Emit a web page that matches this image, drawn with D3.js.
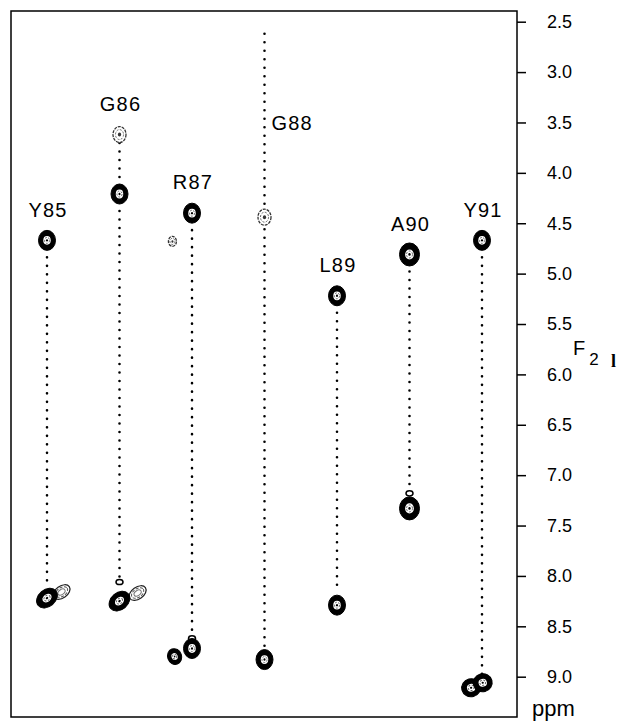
<!DOCTYPE html>
<html>
<head>
<meta charset="utf-8">
<script src="https://cdn.jsdelivr.net/npm/d3@7"></script>
<style>
  html, body { margin: 0; padding: 0; background: #fff; }
  svg { display: block; }
  text { font-family: "Liberation Sans", Arial, Helvetica, sans-serif; fill: #000; }
</style>
</head>
<body>
<script>
// ---------------- data ----------------
const residues   = ["Y85", "G86", "R87", "G88", "L89", "A90", "Y91"];
// dotted connectivity line: start / end chemical shift (ppm, F2)
const lineTop    = [4.67, 3.62, 4.40, 2.62, 5.22, 4.81, 4.67];
const lineBottom = [8.10, 8.04, 8.62, 8.72, 8.15, 7.13, 9.00];
// cross peaks
const peakResidue = ["Y85","Y85","Y85", "G86","G86","G86","G86","G86", "R87","R87","R87","R87","R87", "G88","G88", "L89","L89", "A90","A90","A90", "Y91","Y91","Y91"];
const peakShift   = [4.67, 8.16, 8.22,  3.62, 4.21, 8.17, 8.25, 8.06,  4.40, 4.68, 8.80, 8.72, 8.62,  4.44, 8.83,  5.22, 8.29,  4.81, 7.33, 7.18,  4.67, 9.11, 9.06];
const peakOffset  = [0, 0.20, 0,        0, 0, 0.25, 0, 0,              0, -0.27, -0.24, 0, 0,          0, 0,        0, 0,        0, 0, 0,           0, -0.15, 0.01];
const peakKind    = ["strong","tiltOpen","tilt", "weak","strong","tiltOpen","tilt","tiny", "strong","faint","small","strong","tiny", "weak","strong", "strong","strong", "big","big","tiny", "strong","pair","pair"];
const tickValues  = [2.5, 3.0, 3.5, 4.0, 4.5, 5.0, 5.5, 6.0, 6.5, 7.0, 7.5, 8.0, 8.5, 9.0];

// ---------------- layout ----------------
const W = 621, H = 721;
const box = { left: 11, top: 11, right: 517, bottom: 717 };

const svg = d3.select("body").append("svg").attr("width", W).attr("height", H);

const x = d3.scalePoint().domain(residues).range([47, 482]);
const step = x.step();
const y = d3.scaleLinear().domain([2.5, 9.0]).range([21.7, 676.7]);

// frame
svg.append("rect")
  .attr("x", box.left).attr("y", box.top)
  .attr("width", box.right - box.left).attr("height", box.bottom - box.top)
  .attr("fill", "none").attr("stroke", "#000").attr("stroke-width", 1.5);

// right axis
const axis = d3.axisRight(y).tickValues(tickValues).tickSize(9).tickPadding(21).tickFormat(d3.format(".1f"));
const ag = svg.append("g").attr("transform", `translate(${box.right},0)`).call(axis);
ag.select(".domain").remove();
ag.selectAll(".tick line").attr("stroke", "#000").attr("stroke-width", 1.5);
ag.selectAll(".tick text").style("font-size", "18px").attr("fill", "#000");

// axis labels
svg.append("text").attr("x", 532).attr("y", 716).style("font-size", "22px").text("ppm");
const f2 = svg.append("text").attr("x", 573).attr("y", 355).style("font-size", "20px");
f2.append("tspan").text("F");
f2.append("tspan").attr("dy", 10).attr("dx", 4).style("font-size", "17px").text("2");
svg.append("text").attr("x", 611).attr("y", 367)
  .style("font-family", "'Liberation Serif', 'DejaVu Serif', serif").style("font-size", "18px").style("font-weight", "bold").text("l");

// dotted lines
const lines = residues.map((r, i) => ({ r, top: lineTop[i], bottom: lineBottom[i] }));
svg.append("g").selectAll("line").data(lines).join("line")
  .attr("x1", d => x(d.r)).attr("x2", d => x(d.r))
  .attr("y1", d => y(d.top)).attr("y2", d => y(d.bottom))
  .attr("stroke", "#000").attr("stroke-width", 2.6)
  .attr("stroke-linecap", "round").attr("stroke-dasharray", "0,8.5");

// peaks
const peaks = peakResidue.map((r, i) => ({ r, ppm: peakShift[i], off: peakOffset[i], kind: peakKind[i] }));
const order = { tiltOpen: 0, tiny: 1, faint: 1, weak: 1, small: 2, strong: 3, big: 3, tilt: 3, pair: 3 };
peaks.sort((a, b) => order[a.kind] - order[b.kind]);

const style = {
  strong:   { rx: 8.5, ry: 10,  rot: 0 },
  big:      { rx: 10,  ry: 11.5, rot: 0 },
  small:    { rx: 7,   ry: 8,   rot: -20 },
  tilt:     { rx: 11.5, ry: 8.5, rot: -40 },
  pair:     { rx: 9.5, ry: 9,   rot: -15 },
  tiltOpen: { rx: 9.5, ry: 6,   rot: -35 },
  weak:     { rx: 6.5, ry: 8,   rot: 0 },
  faint:    { rx: 4,   ry: 5,   rot: 0 },
  tiny:     { rx: 3.5, ry: 2.6, rot: 0 }
};

const pg = svg.append("g");
peaks.forEach(p => {
  const s = style[p.kind];
  const cx = x(p.r) + p.off * step, cy = y(p.ppm);
  const g = pg.append("g").attr("transform", `translate(${cx},${cy}) rotate(${s.rot})`);
  const ell = (k, fill, stroke, sw, dash) => {
    const e = g.append("ellipse").attr("rx", s.rx * k).attr("ry", s.ry * k)
      .attr("fill", fill).attr("stroke", stroke).attr("stroke-width", sw);
    if (dash) e.attr("stroke-dasharray", dash);
    return e;
  };
  if (["strong", "big", "small", "tilt", "pair"].includes(p.kind)) {
    ell(1, "#000", "#000", 1);
    ell(0.44, "#fff", "none", 0);
    ell(0.3, "none", "#666", 1, "2,1.5");
    ell(0.12, "#000", "none", 0);
  } else if (p.kind === "weak" || p.kind === "faint") {
    ell(1, "#fff", "#333", 1.3, "3,1");
    ell(0.62, "none", "#666", 1, "2,1.5");
    ell(0.25, "#333", "none", 0);
  } else if (p.kind === "tiltOpen") {
    ell(1, "#fff", "#222", 1.2);
    ell(0.72, "none", "#555", 1, "3,1.5");
    ell(0.42, "none", "#777", 1);
  } else {
    ell(1, "#fff", "#000", 1.5);
  }
});

// residue labels
const labels = svg.append("g").style("font-size", "20px").style("letter-spacing", "1.2px");
residues.forEach((r, i) => {
  if (r === "G88") {
    labels.append("text").attr("x", x(r) + 7).attr("y", y(3.5)).attr("dy", "0.36em").text(r);
  } else {
    const topPeak = d3.min(peaks.filter(p => p.r === r && p.off === 0), p => p.ppm);
    labels.append("text").attr("x", x(r) + 1).attr("y", y(topPeak) - 31)
      .attr("dy", "0.36em").attr("text-anchor", "middle").text(r);
  }
});
</script>
</body>
</html>
